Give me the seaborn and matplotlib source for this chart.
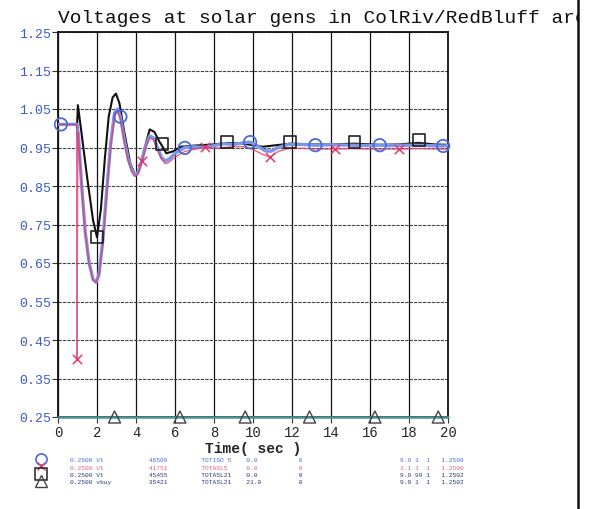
import matplotlib
matplotlib.use("Agg")
import matplotlib.pyplot as plt
import numpy as np
import pandas as pd
import seaborn as sns
from matplotlib.lines import Line2D
from matplotlib.patches import Rectangle
from matplotlib.font_manager import FontProperties

# ---- datos ----
t_vt1 = [0, 0.98, 1.0, 1.05, 1.2, 1.4, 1.6, 1.8, 1.95, 2.1, 2.3, 2.5, 2.7, 2.9,
         3.05, 3.2, 3.4, 3.6, 3.8, 3.95, 4.1, 4.3, 4.5, 4.7, 4.9, 5.1, 5.3,
         5.5, 5.7, 6.0, 6.5, 7.0, 7.5, 8.0, 8.5, 9.0, 9.5, 9.85, 10.2, 10.6,
         10.9, 11.3, 11.8, 12.5, 13.2, 14.0, 15.0, 16.0, 16.5, 17.0, 18.0,
         19.0, 19.75, 20.0]
v_vt1 = [1.01, 1.01, 1.0, 0.98, 0.86, 0.73, 0.65, 0.607, 0.60, 0.62, 0.71,
         0.84, 0.96, 1.04, 1.05, 1.03, 0.97, 0.92, 0.89, 0.878, 0.885, 0.915,
         0.955, 0.98, 0.975, 0.95, 0.925, 0.915, 0.92, 0.935, 0.95, 0.952,
         0.95, 0.955, 0.96, 0.958, 0.962, 0.964, 0.955, 0.942, 0.94, 0.95,
         0.958, 0.958, 0.956, 0.957, 0.956, 0.955, 0.956, 0.955, 0.956,
         0.955, 0.954, 0.955]

t_vt2 = [0, 0.96, 0.97, 1.02, 1.05, 1.2, 1.4, 1.6, 1.8, 1.95, 2.1, 2.3, 2.5,
         2.7, 2.9, 3.05, 3.2, 3.4, 3.6, 3.8, 3.95, 4.1, 4.3, 4.5, 4.7, 4.9,
         5.1, 5.3, 5.5, 5.7, 6.0, 6.5, 7.0, 7.54, 8.0, 8.5, 9.0, 9.5, 10.0,
         10.5, 10.87, 11.3, 11.8, 12.5, 13.2, 14.2, 15.0, 16.0, 17.5, 18.5,
         19.5, 20.0]
v_vt2 = [1.01, 1.01, 0.40, 0.99, 0.975, 0.855, 0.725, 0.645, 0.605, 0.60,
         0.615, 0.70, 0.83, 0.95, 1.03, 1.045, 1.025, 0.965, 0.915, 0.885,
         0.875, 0.88, 0.912, 0.95, 0.975, 0.97, 0.945, 0.92, 0.908, 0.912,
         0.925, 0.94, 0.945, 0.951, 0.948, 0.95, 0.952, 0.952, 0.945, 0.932,
         0.925, 0.94, 0.947, 0.948, 0.946, 0.946, 0.947, 0.946, 0.946,
         0.947, 0.946, 0.946]

t_vt3 = [0, 0.98, 1.02, 1.2, 1.5, 1.8, 2.0, 2.2, 2.4, 2.6, 2.8, 2.97, 3.15,
         3.4, 3.7, 3.95, 4.15, 4.4, 4.7, 4.95, 5.2, 5.33, 5.55, 5.9, 6.3, 7.0,
         8.0, 8.67, 9.5, 10.5, 11.9, 13.0, 14.0, 15.2, 16.5, 17.5, 18.5,
         19.3, 20.0]
v_vt3 = [1.01, 1.01, 1.06, 0.99, 0.87, 0.76, 0.717, 0.79, 0.92, 1.03, 1.08,
         1.09, 1.065, 0.99, 0.91, 0.878, 0.89, 0.94, 0.997, 0.99, 0.965,
         0.955, 0.935, 0.94, 0.952, 0.955, 0.958, 0.962, 0.96, 0.952, 0.96,
         0.958, 0.958, 0.96, 0.957, 0.958, 0.962, 0.958, 0.957]

t_vbuy = [0, 20]
v_vbuy = [0.25, 0.25]

# marcadores de cada curva
mk_t1 = [0.15, 3.2, 6.5, 9.85, 13.2, 16.5, 19.75]
mk_v1 = [1.01, 1.03, 0.949, 0.964, 0.956, 0.956, 0.954]
mk_t2 = [0.97, 4.3, 7.54, 10.87, 14.2, 17.5]
mk_v2 = [0.40, 0.915, 0.951, 0.925, 0.946, 0.946]
mk_t3 = [2.0, 5.33, 8.67, 11.9, 15.2, 18.5]
mk_v3 = [0.717, 0.959, 0.964, 0.964, 0.964, 0.969]
mk_t4 = [2.9, 6.25, 9.6, 12.9, 16.25, 19.5]
mk_v4 = [0.25, 0.25, 0.25, 0.25, 0.25, 0.25]

x_ticks = list(range(0, 21, 2))
y_ticks = [0.25, 0.35, 0.45, 0.55, 0.65, 0.75, 0.85, 0.95, 1.05, 1.15, 1.25]

titulo = "Voltages at solar gens in ColRiv/RedBluff area"
etiquetas = [
    ["0.2500 Vt", "46509", "TOTISO 5", "0.0", "0", "9.9", "1", "1", "1.2509"],
    ["0.2500 Vt", "41751", "TOTASL5", "0.0", "0", "1.1", "1", "1", "1.2509"],
    ["0.2500 Vt", "45455", "TOTASL21", "0.0", "0", "9.9", "99", "1", "1.2502"],
    ["0.2500 vbuy", "35421", "TOTASL21", "21.0", "0", "9.9", "1", "1", "1.2502"],
]

# ---- estilo ----
sns.set_style("white")
plt.rcParams["font.family"] = ["Liberation Mono", "DejaVu Sans Mono"]

c_blue = "#7b96e8"
c_red = "#e23a6c"
c_black = "#111111"
c_teal = "#4a9494"
c_lbl = "#3a5cc4"

fig = plt.figure(figsize=(6.01, 5.10), dpi=100)
ax = fig.add_axes([58 / 601, 92 / 510, 390 / 601, 385 / 510])

sns.lineplot(x=t_vt3, y=v_vt3, estimator=None, sort=False, ax=ax,
             color=c_black, lw=1.5, zorder=2)
sns.lineplot(x=t_vt1, y=v_vt1, estimator=None, sort=False, ax=ax,
             color=c_blue, lw=2.4, zorder=3)
sns.lineplot(x=t_vt2, y=v_vt2, estimator=None, sort=False, ax=ax,
             color=c_red, lw=1.0, alpha=0.8, zorder=4)
l4 = sns.lineplot(x=t_vbuy, y=v_vbuy, estimator=None, sort=False, ax=ax,
                  color=c_teal, lw=1.8, zorder=5)
l4.lines[-1].set_clip_on(False)

sns.scatterplot(x=mk_t1, y=mk_v1, ax=ax, marker="o", s=80, facecolor="none",
                edgecolor="#4a6ad8", linewidth=1.3, zorder=6)
sns.scatterplot(x=mk_t2, y=mk_v2, ax=ax, marker="x", s=45, color=c_red,
                linewidth=1.1, zorder=6)
sns.scatterplot(x=mk_t3, y=mk_v3, ax=ax, marker="s", s=70, facecolor="none",
                edgecolor="#222222", linewidth=1.2, zorder=6)
tri = sns.scatterplot(x=mk_t4, y=mk_v4, ax=ax, marker="^", s=75,
                      facecolor="none", edgecolor="#444444", linewidth=1.0,
                      zorder=7)
for c in tri.collections:
    c.set_clip_on(False)

ax.set_xlim(0, 20)
ax.set_ylim(0.25, 1.25)
ax.set_xticks(x_ticks)
ax.set_yticks(y_ticks)
ax.set_xticklabels([str(v) for v in x_ticks], fontsize=10)
ax.set_yticklabels([f"{v:.2f}" for v in y_ticks], fontsize=9.5, color=c_lbl)
ax.tick_params(axis="both", direction="out", length=4, width=0.8,
               color="#333333", left=True, bottom=True)
ax.tick_params(axis="x", pad=2)
ax.tick_params(axis="y", pad=1)
ax.set_xlabel("Time( sec )", fontsize=10.5, fontweight="bold", labelpad=1)
ax.set_ylabel("")

for x in x_ticks:
    ax.axvline(x, color="#111111", lw=0.9, zorder=1)
for y in y_ticks:
    ax.axhline(y, color="#444444", lw=0.8, ls=(0, (3, 1)), zorder=1)
for s in ax.spines.values():
    s.set_color("#111111")
    s.set_linewidth(1.3)

# leyenda al pie
cols = [0, 21, 35, 47, 61, 88, 92, 95, 99]


def fila(campos):
    txt = ""
    for col, campo in zip(cols, campos):
        txt = txt.ljust(col) + campo + " "
    return txt


handles = [
    Line2D([], [], ls="none", marker="o", mfc="none", mec="#4a6ad8", ms=8, mew=1.2),
    Line2D([], [], ls="none", marker="x", color=c_red, ms=6, mew=1.0),
    Line2D([], [], ls="none", marker="s", mfc="none", mec="#222222", ms=8, mew=1.1),
    Line2D([], [], ls="none", marker="^", mfc="none", mec="#444444", ms=8, mew=1.0),
]
leg = ax.legend(handles, [fila(e) for e in etiquetas], loc="upper left",
                bbox_to_anchor=(38 / 601, 1 - 458 / 510),
                bbox_transform=fig.transFigure, frameon=False,
                prop=FontProperties(family="Liberation Mono", size=4.5),
                handlelength=1.0, handletextpad=4.2, labelspacing=0.3,
                borderpad=0, borderaxespad=0)
for txt, col in zip(leg.get_texts(), ["#4a6ad8", "#e0607f", "#2a3a70", "#2a3a70"]):
    txt.set_color(col)

# titulo y borde de pagina
fig.text(58 / 601, 1 - 23 / 510, titulo, fontsize=14, va="baseline",
         ha="left", color="#111111")
fig.add_artist(Rectangle((579 / 601, 0), 22 / 601, 1, transform=fig.transFigure,
                         facecolor="white", edgecolor="none", zorder=20))
fig.add_artist(Line2D([578 / 601, 578 / 601], [0, 1], transform=fig.transFigure,
                      color="#111111", lw=1.8, zorder=21))

fig.savefig("out.png", dpi=100)
